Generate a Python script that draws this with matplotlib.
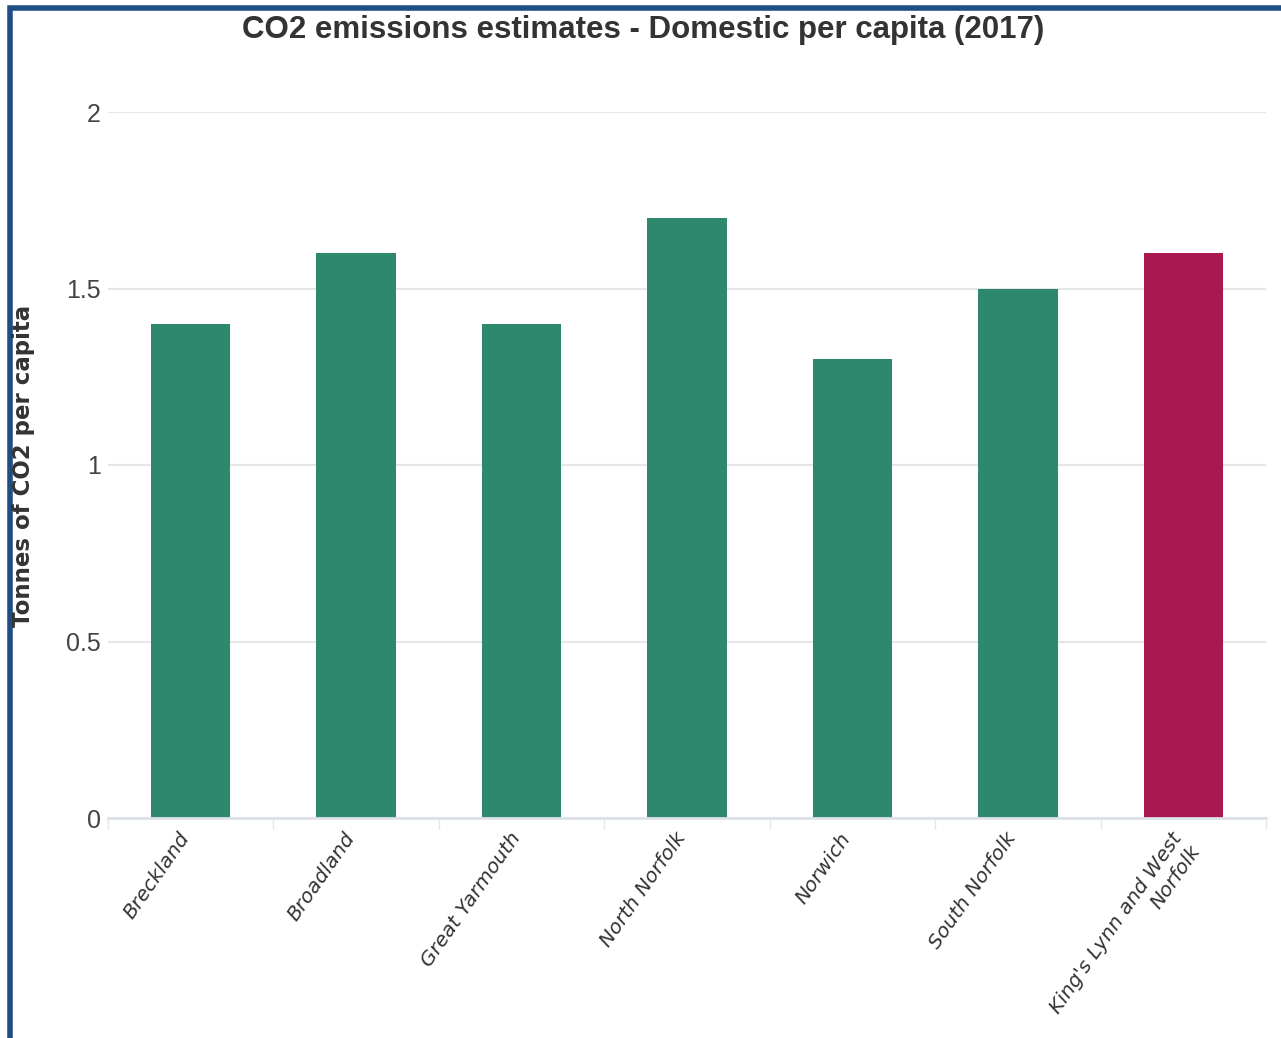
import numpy as np
import matplotlib.pyplot as plt
import matplotlib.transforms as mtransforms
from matplotlib.patches import Rectangle

areas = ['Breckland', 'Broadland', 'Great Yarmouth', 'North Norfolk',
         'Norwich', 'South Norfolk', "King's Lynn and West\nNorfolk"]
tonnes = [1.4, 1.6, 1.4, 1.7, 1.3, 1.5, 1.6]
yticks = [0, 0.5, 1, 1.5, 2]
ytick_labels = ['0', '0.5', '1', '1.5', '2']

green = '#2e886e'
highlight = '#a8174f'
colors = [green] * (len(areas) - 1) + [highlight]

fig = plt.figure(figsize=(12.81, 10.38), dpi=100)
ax = fig.add_axes([108 / 1281, 1 - 818 / 1038, (1266 - 108) / 1281, (818 - 112) / 1038])

x = np.arange(len(areas))
ax.bar(x, tonnes, width=0.48, color=colors, zorder=2)

ax.set_xlim(-0.5, len(areas) - 0.5)
ax.set_ylim(0, 2)
ax.set_yticks(yticks)
ax.set_yticklabels(ytick_labels, family='Liberation Sans', fontsize=18, color='#444444')
ax.tick_params(axis='y', length=0, pad=5)

ax.set_xticks(x)
ax.set_xticklabels(areas, rotation=55, ha='right', va='top', rotation_mode='anchor',
                   style='italic', fontsize=14.5, color='#333333', multialignment='right')
ax.tick_params(axis='x', length=0, pad=8)
# nudge the slanted labels so they end under the bar centre
shift = mtransforms.ScaledTranslation(-13 / 100, 0, fig.dpi_scale_trans)
for lbl in ax.get_xticklabels():
    lbl.set_transform(lbl.get_transform() + shift)
ax.set_xticks(np.arange(-0.5, len(areas), 1), minor=True)
ax.tick_params(axis='x', which='minor', length=8, width=1, color='#e3e6ee')

for s in ['top', 'right', 'left']:
    ax.spines[s].set_visible(False)
ax.spines['bottom'].set_color('#dde1ea')
ax.spines['bottom'].set_linewidth(2)
ax.grid(axis='y', color='#e6e6e6', linewidth=1.6, zorder=0)
ax.set_axisbelow(True)

fig.text(0.502, 1 - 30 / 1038, 'CO2 emissions estimates - Domestic per capita (2017)',
         ha='center', va='center', fontsize=22.5, fontweight='bold', family='Liberation Sans',
         color='#333333')
fig.text(24 / 1281, 1 - 466 / 1038, 'Tonnes of CO2 per capita', rotation=90,
         ha='center', va='center', fontsize=16.5, fontweight='bold', color='#333333')

# frame around the panel (cut at the right and bottom edges)
fig.patches.append(Rectangle((10 / 1281, -0.1), 1.2, 1 - 8 / 1038 + 0.1,
                             transform=fig.transFigure, fill=False,
                             edgecolor='#1f4e85', linewidth=4))

fig.savefig('out.png', dpi=100)
